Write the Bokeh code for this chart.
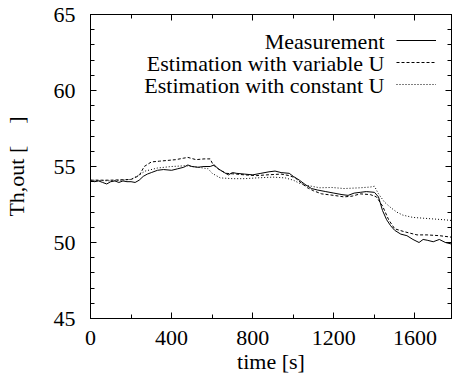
from bokeh.plotting import figure
from bokeh.models import (Range1d, LinearAxis, SingleIntervalTicker, Legend, LegendItem, Label,
                          CustomJSTickFormatter)
from bokeh.embed import file_html
from bokeh.resources import INLINE

# ---- data ----
t_meas = [0, 20, 40, 60, 80, 100, 120, 140, 160, 180, 200, 220, 240, 260, 280, 300, 330, 360, 400, 430,
          460, 480, 500, 530, 560, 590, 610, 630, 660, 680, 700, 720, 760, 800, 840, 880, 910, 940, 980,
          1000, 1030, 1060, 1090, 1120, 1160, 1200, 1240, 1270, 1300, 1330, 1360, 1400, 1420, 1440, 1460,
          1480, 1500, 1530, 1560, 1590, 1620, 1640, 1660, 1690, 1720, 1750, 1780]
y_meas = [54.05, 54.0, 54.05, 53.95, 53.85, 54.0, 54.05, 53.95, 54.05, 54.0, 54.0, 53.95, 54.1, 54.35,
          54.5, 54.6, 54.75, 54.8, 54.75, 54.85, 54.95, 55.1, 55.0, 54.95, 55.0, 55.0, 55.1, 54.85, 54.6,
          54.45, 54.6, 54.55, 54.5, 54.45, 54.55, 54.65, 54.7, 54.6, 54.55, 54.35, 54.1, 53.8, 53.55,
          53.45, 53.35, 53.25, 53.15, 53.1, 53.25, 53.3, 53.35, 53.3, 53.0, 52.1, 51.5, 51.1, 50.8,
          50.55, 50.45, 50.2, 50.0, 50.2, 50.15, 50.05, 50.2, 50.0, 49.9]

t_var = [0, 100, 200, 240, 265, 300, 340, 380, 420, 460, 480, 520, 560, 590, 605, 640, 670, 720, 760,
         820, 870, 940, 980, 1010, 1040, 1070, 1100, 1140, 1200, 1250, 1290, 1330, 1380, 1410, 1440,
         1470, 1500, 1550, 1610, 1660, 1720, 1780]
y_var = [54.1, 54.1, 54.15, 54.4, 55.0, 55.3, 55.35, 55.4, 55.45, 55.55, 55.6, 55.45, 55.5, 55.5, 55.1,
         54.75, 54.55, 54.5, 54.45, 54.4, 54.45, 54.5, 54.4, 54.25, 53.9, 53.6, 53.4, 53.2, 53.1, 53.0,
         53.05, 53.2, 53.15, 53.0, 52.4, 51.5, 50.9, 50.7, 50.5, 50.5, 50.45, 50.35]

t_const = [0, 100, 200, 240, 270, 330, 400, 470, 530, 580, 600, 640, 700, 760, 820, 900, 960, 1000,
           1030, 1070, 1130, 1190, 1250, 1330, 1380, 1400, 1420, 1450, 1480, 1510, 1540, 1590, 1640,
           1690, 1740, 1780]
y_const = [54.1, 54.05, 54.15, 54.45, 54.7, 54.9, 55.0, 55.05, 54.95, 54.85, 54.55, 54.25, 54.2, 54.2,
           54.25, 54.3, 54.25, 54.1, 53.9, 53.75, 53.6, 53.62, 53.55, 53.6, 53.65, 53.7, 53.2, 52.65,
           52.3, 52.0, 51.8, 51.65, 51.6, 51.55, 51.5, 51.45]

series_names = ["Measurement", "Estimation with variable U", "Estimation with constant U"]
x_label = "time [s]"
y_label = "Th,out [\u00a0\u00a0\u00a0\u00a0]"

FONT = "Liberation Serif"
FS = "22px"

p = figure(width=452, height=377, output_backend="svg", toolbar_location=None,
           x_range=Range1d(0, 1780), y_range=Range1d(45, 65),
           min_border_left=89, min_border_right=1, min_border_top=14, min_border_bottom=59)
p.xgrid.visible = False
p.ygrid.visible = False
p.outline_line_color = "black"
p.outline_line_width = 1
p.background_fill_color = "white"
p.border_fill_color = "white"

def style_axis(ax, labels=True):
    ax.axis_line_color = "black"
    ax.major_tick_in = 6
    ax.major_tick_out = 0
    ax.minor_tick_in = 4
    ax.minor_tick_out = 0
    ax.major_tick_line_color = "black"
    ax.minor_tick_line_color = "black"
    ax.major_label_text_font = FONT
    ax.major_label_text_color = "black"
    ax.axis_label_text_font = FONT
    ax.axis_label_text_font_style = "normal"
    ax.axis_label_text_color = "black"
    if labels:
        ax.major_label_text_font_size = FS
        ax.axis_label_text_font_size = FS
    else:
        ax.formatter = CustomJSTickFormatter(code="return ''")
        ax.major_label_text_font_size = "1px"
        ax.major_label_standoff = 0

xt = SingleIntervalTicker(interval=400, num_minor_ticks=2)
yt = SingleIntervalTicker(interval=5, num_minor_ticks=5)

p.xaxis.ticker = xt
p.yaxis.ticker = yt
style_axis(p.xaxis[0])
style_axis(p.yaxis[0])
p.xaxis.axis_label = x_label
p.yaxis.axis_label = y_label
p.xaxis.major_label_standoff = 12
p.xaxis.axis_label_standoff = 1
p.yaxis.major_label_standoff = 15
p.yaxis.axis_label_standoff = 22

ra = LinearAxis(ticker=SingleIntervalTicker(interval=5, num_minor_ticks=5))
style_axis(ra, labels=False)
p.add_layout(ra, "right")
ta = LinearAxis(ticker=SingleIntervalTicker(interval=400, num_minor_ticks=2))
style_axis(ta, labels=False)
p.add_layout(ta, "above")

r1 = p.line(t_meas, y_meas, line_color="black", line_width=1)
r2 = p.line(t_var, y_var, line_color="black", line_width=1, line_dash="3 2")
r3 = p.line(t_const, y_const, line_color="black", line_width=1, line_dash="1 2")

legend = Legend(items=[LegendItem(label=" ", renderers=[r]) for r in (r1, r2, r3)],
                location="top_right", margin=15, padding=0, spacing=0,
                glyph_width=40, glyph_height=22, label_width=0, label_height=22,
                label_standoff=0, label_text_font_size="1px",
                border_line_color=None, background_fill_alpha=0)
p.add_layout(legend)

for i, name in enumerate(series_names):
    p.add_layout(Label(x=294, y=304 - 27 - 22 * i, x_units="screen", y_units="screen",
                       text=name, text_align="right", text_baseline="middle",
                       text_font=FONT, text_font_size=FS, text_color="black"))

open("out.html", "w").write(file_html(p, INLINE))
